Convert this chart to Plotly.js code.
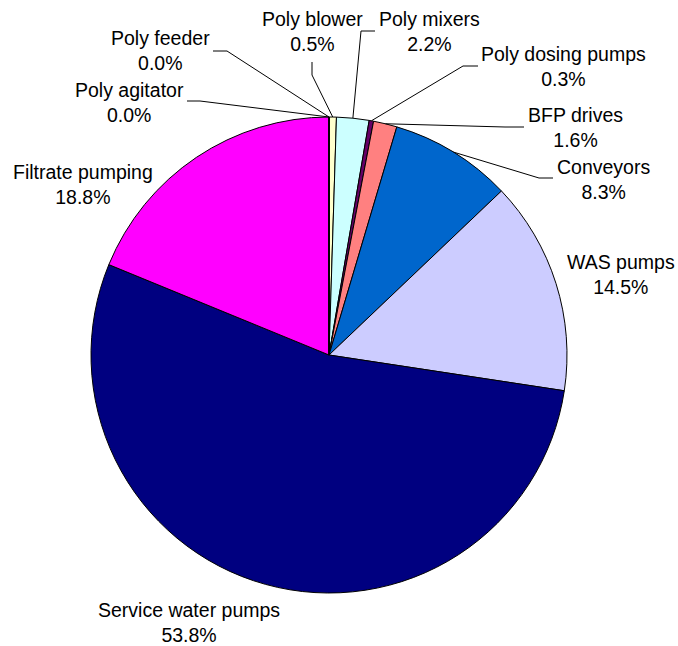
<!DOCTYPE html>
<html>
<head>
<meta charset="utf-8">
<script src="https://cdn.plot.ly/plotly-3.0.1.min.js"></script>
<style>html,body{margin:0;padding:0;background:#fff;}#chart{width:678px;height:646px;}</style>
</head>
<body>
<div id="chart"></div>
<script>
// ---- data ----
const categories = ["Poly blower", "Poly mixers", "Poly dosing pumps", "BFP drives", "Conveyors",
                    "WAS pumps", "Service water pumps", "Filtrate pumping", "Poly agitator", "Poly feeder"];
const sharePct = [0.5, 2.2, 0.3, 1.6, 8.3, 14.5, 53.8, 18.8, 0.0, 0.0];
const sliceColors = ["#FFFFCC", "#CCFFFF", "#660066", "#FF8080", "#0066CC",
                     "#CCCCFF", "#000080", "#FF00FF", "#FFFFFF", "#FFFFFF"];

// ---- layout (pixel positions of the figure) ----
const W = 678, H = 646;
const CX = 329, CY = 355, R = 238;
// label centres and leader line (text end, elbow) per category, in pixels
const labelPos = {
  "Poly blower":        {x: 312, y: 31.5, lead: [[312, 62], [312, 75]]},
  "Poly mixers":        {x: 429, y: 31.5, lead: [[375, 31], [361, 31]]},
  "Poly dosing pumps":  {x: 563, y: 67,   lead: [[478, 66], [463, 66]]},
  "BFP drives":         {x: 575, y: 127,  lead: [[524, 127], [505, 127]]},
  "Conveyors":          {x: 603, y: 179,  lead: [[553, 178], [539, 178]]},
  "WAS pumps":          {x: 621, y: 274,  lead: null},
  "Service water pumps":{x: 189, y: 622,  lead: null},
  "Filtrate pumping":   {x: 83,  y: 185,  lead: null},
  "Poly agitator":      {x: 129, y: 102,  lead: [[187, 101], [200, 101]]},
  "Poly feeder":        {x: 160, y: 50,   lead: [[213, 51], [227, 51]]}
};
const px = x => x / W, py = y => 1 - y / H;

const total = sharePct.reduce((a, b) => a + b, 0);
let cum = 0;
const annotations = [], shapes = [];
categories.forEach((c, i) => {
  const mid = (cum + sharePct[i] / 2) / total * 2 * Math.PI;
  cum += sharePct[i];
  const ax = CX + R * Math.sin(mid), ay = CY - R * Math.cos(mid);
  const lp = labelPos[c];
  annotations.push({
    xref: 'paper', yref: 'paper', x: px(lp.x), y: py(lp.y),
    xanchor: 'center', yanchor: 'middle', showarrow: false,
    text: c + '<br>' + sharePct[i].toFixed(1) + '%',
    font: {family: 'Liberation Sans, Arial, sans-serif', size: 19.5, color: '#000'}
  });
  if (lp.lead) {
    const pts = lp.lead.concat([[ax, ay]]);
    const d = 'M' + pts.map(p => px(p[0]) + ',' + py(p[1])).join(' L');
    shapes.push({type: 'path', xref: 'paper', yref: 'paper', path: d,
                 line: {color: '#000', width: 1}});
  }
});

const trace = {
  type: 'pie',
  labels: categories,
  values: sharePct,
  sort: false,
  direction: 'clockwise',
  rotation: 0,
  textinfo: 'none',
  hoverinfo: 'label+percent',
  marker: {colors: sliceColors, line: {color: '#000', width: 1}},
  domain: {x: [px(CX - R), px(CX + R)], y: [py(CY + R), py(CY - R)]},
  showlegend: false
};

const layout = {
  width: W, height: H,
  margin: {l: 0, r: 0, t: 0, b: 0},
  paper_bgcolor: '#fff', plot_bgcolor: '#fff',
  showlegend: false,
  annotations: annotations,
  shapes: shapes
};

Plotly.newPlot('chart', [trace], layout, {displayModeBar: false, staticPlot: true});
</script>
</body>
</html>
